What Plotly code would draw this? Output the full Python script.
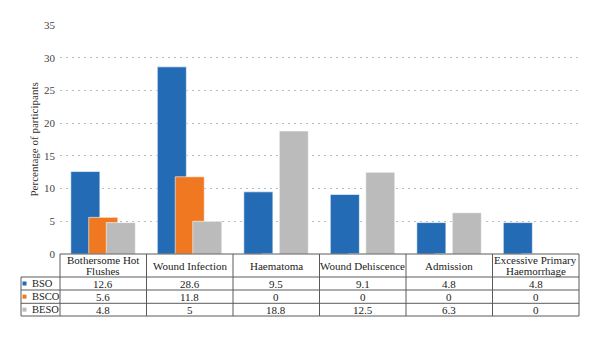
import plotly.graph_objects as go

categories = ["Bothersome Hot Flushes", "Wound Infection", "Haematoma",
              "Wound Dehiscence", "Admission", "Excessive Primary Haemorrhage"]
header_lines = [["Bothersome Hot", "Flushes"], ["Wound Infection"], ["Haematoma"],
                ["Wound Dehiscence"], ["Admission"], ["Excessive Primary", "Haemorrhage"]]
series_names = ["BSO", "BSCO", "BESO"]
bso = [12.6, 28.6, 9.5, 9.1, 4.8, 4.8]
bsco = [5.6, 11.8, 0, 0, 0, 0]
beso = [4.8, 5, 18.8, 12.5, 6.3, 0]
series_values = [bso, bsco, beso]
colors = ["#236BB5", "#EF7820", "#BBBBBB"]
y_ticks = [0, 5, 10, 15, 20, 25, 30, 35]

FONT = "Liberation Serif"
L, R, T, B = 60, 579, 25, 254
W, H = R - L, B - T

def px_x(p):
    return (p - L) / W

def px_y(p):
    return (B - p) / H

fig = go.Figure()
offsets = [-0.375, -0.168, 0.035]
xs = list(range(len(categories)))
for name, vals, col, off in zip(series_names, series_values, colors, offsets):
    fig.add_trace(go.Bar(x=xs, y=vals, name=name, width=0.336, offset=off,
                         marker=dict(color=col, line=dict(color="white", width=0.6)),
                         showlegend=False))

shapes = []
ann = []
line_col = "#5A5A5A"
n = len(categories)
hdr_bot = 277
row_bots = [290, 303.3, 316]
left_col = 21
shapes.append(dict(type="line", xref="paper", yref="paper", x0=0, x1=1,
                   y0=0, y1=0, line=dict(color=line_col, width=1)))
for yb in [hdr_bot] + row_bots:
    shapes.append(dict(type="line", xref="paper", yref="paper",
                       x0=px_x(left_col), x1=1, y0=px_y(yb), y1=px_y(yb),
                       line=dict(color=line_col, width=1)))
for k in range(n + 1):
    shapes.append(dict(type="line", xref="paper", yref="paper",
                       x0=k / n, x1=k / n, y0=0, y1=px_y(row_bots[-1]),
                       line=dict(color=line_col, width=1)))
shapes.append(dict(type="line", xref="paper", yref="paper",
                   x0=px_x(left_col), x1=px_x(left_col), y0=px_y(hdr_bot), y1=px_y(row_bots[-1]),
                   line=dict(color=line_col, width=1)))

for i, lines in enumerate(header_lines):
    if len(lines) == 1:
        ys = [(B + hdr_bot) / 2]
    else:
        ys = [B + 6, B + 17]
    for txt, yy in zip(lines, ys):
        ann.append(dict(x=i, xref="x", y=px_y(yy), yref="paper", text=txt,
                        showarrow=False, xanchor="center", yanchor="middle",
                        font=dict(family=FONT, size=11, color="#222222")))

row_tops = [hdr_bot] + row_bots[:-1]
for r, (name, vals, col) in enumerate(zip(series_names, series_values, colors)):
    yc = (row_tops[r] + row_bots[r]) / 2
    shapes.append(dict(type="rect", xref="paper", yref="paper",
                       x0=px_x(22.5), x1=px_x(26.5), y0=px_y(yc - 2), y1=px_y(yc + 2),
                       fillcolor=col, line=dict(width=0)))
    ann.append(dict(x=px_x(30), xref="paper", y=px_y(yc), yref="paper", text=name,
                    showarrow=False, xanchor="left", yanchor="middle",
                    font=dict(family=FONT, size=10.5, color="#222222")))
    for i, v in enumerate(vals):
        ann.append(dict(x=i, xref="x", y=px_y(yc), yref="paper", text=f"{v:g}",
                        showarrow=False, xanchor="center", yanchor="middle",
                        font=dict(family=FONT, size=11, color="#222222")))

ann.append(dict(x=px_x(33), xref="paper", y=0.5, yref="paper",
                text="Percentage of participants", textangle=-90, showarrow=False,
                xanchor="center", yanchor="middle",
                font=dict(family=FONT, size=11, color="#333333")))

fig.update_layout(
    width=600, height=338,
    margin=dict(l=L, r=600 - R, t=T, b=338 - B),
    plot_bgcolor="white", paper_bgcolor="white",
    barmode="overlay",
    shapes=shapes, annotations=ann,
    xaxis=dict(range=[-0.5, n - 0.5], showticklabels=False, showgrid=False,
               zeroline=False, showline=False, fixedrange=True),
    yaxis=dict(range=[0, 35], tickvals=y_ticks, showgrid=True,
               gridcolor="#BDBDBD", griddash="1.5px,4.5px", gridwidth=1,
               zeroline=False, showline=False, ticks="", ticklabelstandoff=4,
               tickfont=dict(family=FONT, size=11, color="#444444")),
)

fig.write_html("out.html")
